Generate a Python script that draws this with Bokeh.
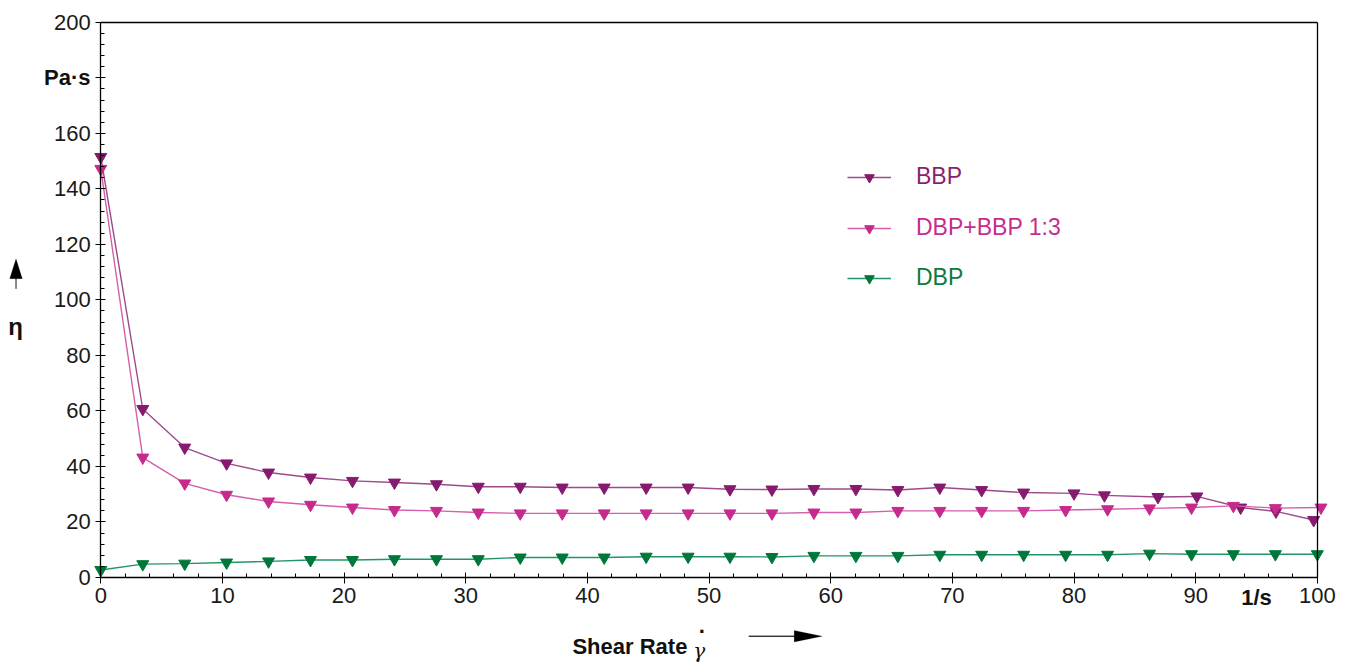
from bokeh.plotting import figure
from bokeh.models import (Label, PolyAnnotation, Legend, LegendItem, LinearAxis,
                          SingleIntervalTicker, FixedTicker, Range1d)
from bokeh.embed import file_html
from bokeh.resources import INLINE

# ---------------- data ----------------
shear_rate = [0.0, 3.45, 6.9, 10.34, 13.79, 17.24, 20.69, 24.14, 27.59, 31.03,
              34.48, 37.93, 41.38, 44.83, 48.28, 51.72, 55.17, 58.62, 62.07, 65.52,
              68.97, 72.41, 75.86, 79.31, 82.76, 86.21, 89.66, 93.1, 96.55, 100.0]
bbp_shear_rate = [0.0, 3.45, 6.9, 10.34, 13.79, 17.24, 20.69, 24.14, 27.59, 31.03,
                  34.48, 37.93, 41.38, 44.83, 48.28, 51.72, 55.17, 58.62, 62.07, 65.52,
                  68.97, 72.41, 75.86, 80.0, 82.5, 86.9, 90.1, 93.7, 96.6, 99.7]
mix_shear_rate = [0.0, 3.45, 6.9, 10.34, 13.79, 17.24, 20.69, 24.14, 27.59, 31.03,
                  34.48, 37.93, 41.38, 44.83, 48.28, 51.72, 55.17, 58.62, 62.07, 65.52,
                  68.97, 72.41, 75.86, 79.31, 82.76, 86.21, 89.66, 93.1, 96.55, 100.3]

bbp = [151.5, 60.7, 46.8, 41.1, 37.8, 36.0, 34.8, 34.2, 33.6, 32.7,
       32.7, 32.4, 32.4, 32.4, 32.4, 31.8, 31.7, 31.9, 31.9, 31.5,
       32.4, 31.5, 30.6, 30.3, 29.6, 29.0, 29.2, 25.2, 23.8, 20.7]
dbp_bbp_13 = [147.2, 43.2, 33.9, 29.8, 27.4, 26.2, 25.2, 24.3, 24.0, 23.4,
              23.1, 23.1, 23.1, 23.1, 23.1, 23.1, 23.1, 23.4, 23.4, 24.0,
              24.0, 24.0, 24.0, 24.3, 24.6, 24.9, 25.2, 25.8, 25.0, 25.2]
dbp = [2.7, 4.8, 5.0, 5.4, 5.8, 6.3, 6.3, 6.6, 6.6, 6.6,
       7.2, 7.2, 7.2, 7.5, 7.5, 7.5, 7.4, 7.8, 7.8, 7.8,
       8.2, 8.2, 8.2, 8.2, 8.2, 8.6, 8.4, 8.4, 8.4, 8.4]

series_names = ["BBP", "DBP+BBP 1:3", "DBP"]
x_tick_overrides = {95: "1/s"}
y_tick_overrides = {180: "Pa·s"}

# ---------------- style ----------------
FONT = "Liberation Sans"
BBP_MARK, BBP_LINE, BBP_TEXT = "#861a6e", "#9c4a8b", "#8a1f70"
MIX_MARK, MIX_LINE, MIX_TEXT = "#c62a8c", "#d45fab", "#c42d8e"
DBP_MARK, DBP_LINE, DBP_TEXT = "#00773a", "#239466", "#0b7a3e"

# the frame fills the whole canvas so nothing drawn outside the axes is clipped
p = figure(frame_width=1351, frame_height=662,
           min_border_left=0, min_border_right=0, min_border_top=0, min_border_bottom=0,
           x_range=Range1d(-8.245, 102.81), y_range=Range1d(-30.62, 207.85),
           output_backend="svg", toolbar_location=None)
p.grid.visible = False
p.outline_line_color = None
p.background_fill_color = "white"
p.border_fill_color = "white"


def style_axis(ax):
    ax.axis_line_color = "black"
    ax.axis_line_width = 1.3
    ax.major_tick_in = 5
    ax.major_tick_out = 5
    ax.minor_tick_in = 4
    ax.minor_tick_out = 0
    ax.major_tick_line_color = "black"
    ax.minor_tick_line_color = "black"
    ax.major_label_standoff = 5
    ax.major_label_text_font = FONT
    ax.major_label_text_font_size = "22px"
    ax.major_label_text_color = "#1a1a1a"


# bottom axis
xa = p.xaxis[0]
xa.fixed_location = 0
xa.bounds = (0, 100)
xa.ticker = SingleIntervalTicker(interval=10, num_minor_ticks=5)
xa.major_label_overrides = {k: "" for k in x_tick_overrides}
style_axis(xa)
xa.major_tick_out = 6

# left axis
ya = p.yaxis[0]
ya.fixed_location = 0
ya.bounds = (0, 200)
ya.ticker = SingleIntervalTicker(interval=20, num_minor_ticks=5)
ya.major_label_overrides = {k: "" for k in y_tick_overrides}
style_axis(ya)

# top and right frame lines
top = LinearAxis(fixed_location=200, bounds=(0, 100), ticker=FixedTicker(ticks=[]),
                 axis_line_color="black", axis_line_width=1.3)
right = LinearAxis(fixed_location=100, bounds=(0, 200), ticker=FixedTicker(ticks=[]),
                   axis_line_color="black", axis_line_width=1.3)
p.add_layout(top, "above")
p.add_layout(right, "right")

# series
renderers = []
for xs, ys, lc, mc in [(bbp_shear_rate, bbp, BBP_LINE, BBP_MARK),
                       (mix_shear_rate, dbp_bbp_13, MIX_LINE, MIX_MARK),
                       (shear_rate, dbp, DBP_LINE, DBP_MARK)]:
    lr = p.line(xs, ys, line_color=lc, line_width=1.4)
    sr = p.scatter(xs, ys, marker="inverted_triangle", size=12,
                   fill_color=mc, line_color=mc)
    renderers.append((lr, sr))

# legends (one per series so each label keeps its own colour)
legend_y = [472, 421, 371]
for name, (lr, sr), tc, ly in zip(series_names, renderers, [BBP_TEXT, MIX_TEXT, DBP_TEXT], legend_y):
    lg = Legend(items=[LegendItem(label=name, renderers=[lr, sr])],
                location=(847, ly), padding=0, margin=0, spacing=0,
                border_line_color=None, background_fill_alpha=0,
                glyph_width=44, glyph_height=24, label_height=24, label_standoff=25,
                label_text_font=FONT, label_text_font_size="23px",
                label_text_color=tc)
    p.add_layout(lg)

# tick label replacements (bold units)
for xv, txt in x_tick_overrides.items():
    p.add_layout(Label(x=xv, y=-7.2, text=txt, text_font=FONT, text_font_size="22px",
                       text_font_style="bold", text_align="center", text_baseline="middle",
                       text_color="#111111"))
for yv, txt in y_tick_overrides.items():
    p.add_layout(Label(x=-0.85, y=yv, text=txt, text_font=FONT, text_font_size="22px",
                       text_font_style="bold", text_align="right", text_baseline="middle",
                       text_color="#111111"))

# axis titles
p.add_layout(Label(x=-7.0, y=90.5, text="η", text_font=FONT, text_font_size="24px",
                   text_font_style="bold", text_align="center", text_baseline="middle",
                   text_color="#111111"))
p.add_layout(Label(x=38.77, y=-24.9, text="Shear Rate", text_font=FONT, text_font_size="22px",
                   text_font_style="bold", text_align="left", text_baseline="middle",
                   text_color="#111111"))
p.add_layout(Label(x=49.2, y=-26.4, text="γ", text_font="DejaVu Serif", text_font_size="20px",
                   text_font_style="italic", text_align="center", text_baseline="middle",
                   text_color="#111111"))
p.add_layout(Label(x=49.45, y=-19.4, text="·", text_font=FONT, text_font_size="22px",
                   text_font_style="bold", text_align="center", text_baseline="middle",
                   text_color="#111111"))

# arrows next to the axis titles
p.add_layout(PolyAnnotation(xs=[53.27, 57.3, 57.3, 53.27], ys=[-21.0, -21.0, -21.3, -21.3],
                            fill_color="black", fill_alpha=1, line_color="black", line_width=0.5))
p.add_layout(PolyAnnotation(xs=[57.0, 59.3, 57.0], ys=[-19.05, -21.15, -23.25],
                            fill_color="black", fill_alpha=1, line_color="black", line_width=0.5))
p.add_layout(PolyAnnotation(xs=[-7.01, -6.93, -6.93, -7.01], ys=[104.0, 104.0, 108.0, 108.0],
                            fill_color="#333333", fill_alpha=1, line_color="#333333", line_width=0.5))
p.add_layout(PolyAnnotation(xs=[-7.49, -6.97, -6.45], ys=[107.6, 114.8, 107.6],
                            fill_color="black", fill_alpha=1, line_color="black", line_width=0.5))

open("out.html", "w").write(file_html(p, INLINE))
